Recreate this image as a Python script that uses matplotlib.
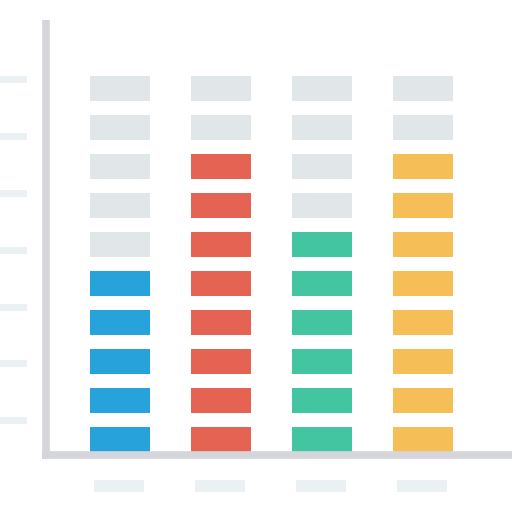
import matplotlib
matplotlib.use("Agg")
import matplotlib.pyplot as plt

# data: filled cells per column, out of a 10-cell stack
columns = ["A", "B", "C", "D"]
filled = [5, 8, 6, 8]
total_cells = 10
colors = ["#27A2DB", "#E56353", "#44C5A1", "#F6BE56"]
empty_color = "#E1E6E9"
axis_color = "#D5D6DB"
deco_color = "#EBF0F3"
n_yticks = 7

fig = plt.figure(figsize=(5.12, 5.12), dpi=100)
ax = fig.add_axes([0, 0, 1, 1])
ax.axis("off")

# one x unit = column pitch (101 px), one y unit = row pitch (39 px)
ax.set_xlim(-120 / 101, 392 / 101)
ax.set_ylim(-60.3 / 39, 451.7 / 39)

bar_w = 60 / 101
cell_h = 24.7 / 39
x = list(range(len(columns)))

for row in range(total_cells):
    face = [c if row < n else empty_color for c, n in zip(colors, filled)]
    ax.bar(x, cell_h, width=bar_w, bottom=row, color=face, linewidth=0)

# axis lines
ax.plot([-0.731, -0.731], [11.07, -0.195], color=axis_color, lw=5.5,
        solid_capstyle="butt")
ax.plot([-0.769, 3.9], [-0.097, -0.097], color=axis_color, lw=5.5,
        solid_capstyle="butt")

# left tick marks
tick_step = (9.538 - 0.792) / (n_yticks - 1)
tick_y = [0.792 + i * tick_step for i in range(n_yticks)]
ax.barh(tick_y, 0.264, height=0.18, left=-1.188, color=deco_color, linewidth=0)

# bottom label placeholders
ax.bar([xi - 0.007 for xi in x], 0.3, width=0.495, bottom=-1.028,
       color=deco_color, linewidth=0)

fig.savefig("out.png", dpi=100, facecolor="white")
